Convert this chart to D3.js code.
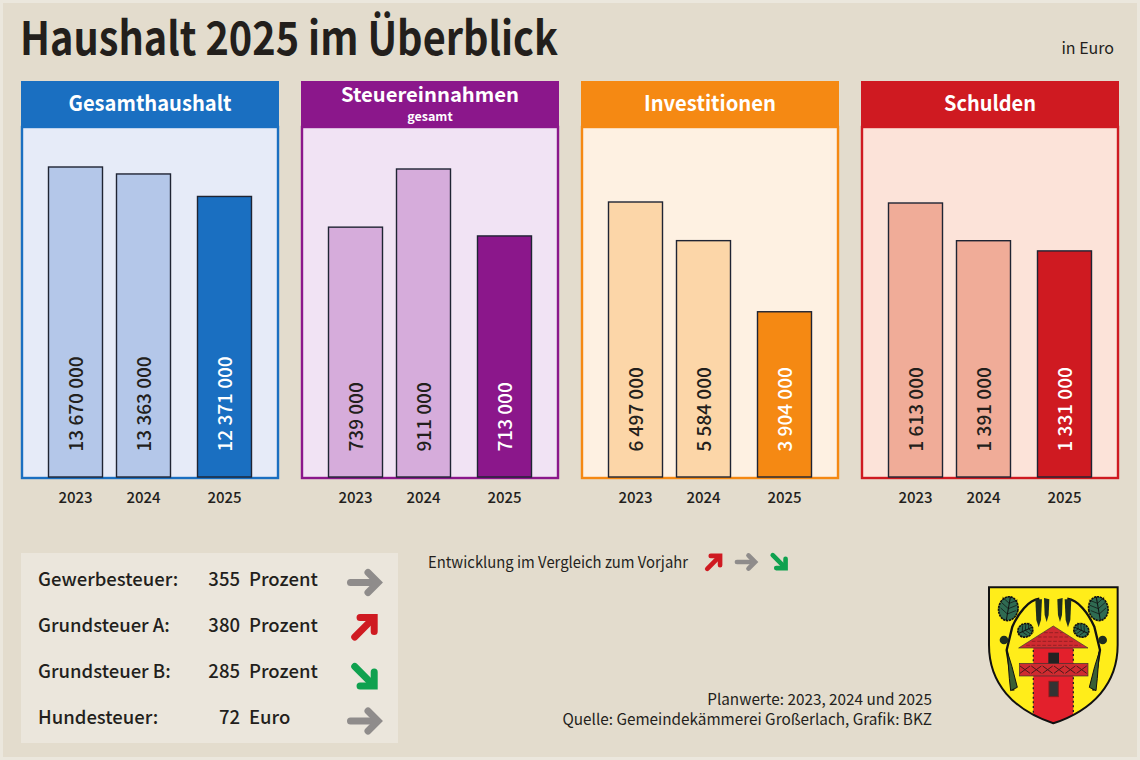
<!DOCTYPE html>
<html>
<head>
<meta charset="utf-8">
<script src="https://cdnjs.cloudflare.com/ajax/libs/d3/7.8.5/d3.min.js"></script>
<style>
html, body { margin: 0; padding: 0; background: #ebe7dd; }
svg { display: block; }
text { font-family: "Noto Sans CJK SC", "Noto Sans", sans-serif; fill: #231f1c; }
</style>
</head>
<body>
<div id="chart"></div>
<script>
// the data
var years = ["2023", "2024", "2025"];
var gesamthaushalt = [13670000, 13363000, 12371000];
var steuereinnahmen = [739000, 911000, 713000];
var investitionen = [6497000, 5584000, 3904000];
var schulden = [1613000, 1391000, 1331000];

var panelTitles = ["Gesamthaushalt", "Steuereinnahmen", "Investitionen", "Schulden"];
var panelValues = [gesamthaushalt, steuereinnahmen, investitionen, schulden];

var taxNames = ["Gewerbesteuer:", "Grundsteuer A:", "Grundsteuer B:", "Hundesteuer:"];
var taxValues = [355, 380, 285, 72];
var taxUnits = ["Prozent", "Prozent", "Prozent", "Euro"];
var taxTrends = ["same", "up", "down", "same"];

// colours per panel: strong, light background, pale bar
var strong = ["#1a6fc1", "#8b178b", "#f58913", "#cf1a21"];
var light = ["#e6ebf8", "#f1e3f4", "#fef1e2", "#fce3d9"];
var pale = ["#b4c7e9", "#d6acdb", "#fcd6a8", "#f0ac98"];
var trendColor = {same: "#8f8c8b", up: "#cf1a21", down: "#0fa14f"};
var trendAngle = {same: 0, up: -45, down: 45};
var trendShift = {same: -3, up: -5, down: -1};

var width = 1140, height = 760;
var panelX = [21, 301, 581, 861];
var panelW = 258, headerTop = 81, headerBottom = 128, baseline = 477;
var maxTop = [167, 169, 202, 203]; // top of the highest bar per panel
var titleW = [163, 178, 132, 92]; // the original font runs narrower
var barW = 54;

var svg = d3.select("#chart").append("svg")
  .attr("width", width)
  .attr("height", height);

// page
svg.append("rect").attr("x", 3).attr("y", 3).attr("width", width - 6).attr("height", height - 6).attr("fill", "#e3dccd");

// title
svg.append("text").attr("x", 20).attr("y", 55)
  .attr("font-size", 46).attr("font-weight", 700)
  .attr("textLength", 538).attr("lengthAdjust", "spacingAndGlyphs")
  .text("Haushalt 2025 im Überblick");
svg.append("text").attr("x", 1114).attr("y", 54)
  .attr("font-size", 16).attr("text-anchor", "end")
  .text("in Euro");

var fmt = d3.formatLocale({thousands: " ", grouping: [3], decimal: ",", currency: ["", ""]}).format(",d");

// x positions are centres of the bars inside a panel
var x = d3.scaleOrdinal().domain(years).range([54.5, 122.5, 203.5]);

panelValues.forEach(function(values, p) {
  var g = svg.append("g")
    .attr("transform", "translate(" + panelX[p] + ",0)");

  g.append("rect")
    .attr("x", 1).attr("y", headerBottom - 1)
    .attr("width", panelW - 2).attr("height", baseline - headerBottom + 2)
    .attr("fill", light[p]).attr("stroke", strong[p]).attr("stroke-width", 2.4);
  g.append("rect")
    .attr("y", headerTop).attr("width", panelW).attr("height", headerBottom - headerTop)
    .attr("fill", strong[p]);

  g.append("text")
    .attr("x", panelW / 2)
    .attr("y", p == 1 ? 102 : 111)
    .attr("text-anchor", "middle")
    .attr("font-size", p == 1 ? 20 : 21).attr("font-weight", 700)
    .attr("textLength", titleW[p]).attr("lengthAdjust", "spacingAndGlyphs")
    .style("fill", "#fff")
    .text(panelTitles[p]);
  if (p == 1) {
    g.append("text").attr("x", panelW / 2).attr("y", 120.5)
      .attr("text-anchor", "middle")
      .attr("font-size", 12.5).attr("font-weight", 700)
      .style("fill", "#fff")
      .text("gesamt");
  }

  var y = d3.scaleLinear()
    .domain([0, d3.max(values)])
    .range([baseline, maxTop[p]]);

  g.selectAll("rect.bar")
    .data(values)
    .enter()
    .append("rect")
      .attr("class", "bar")
      .attr("x", function(d, i) { return x(years[i]) - barW / 2; })
      .attr("y", function(d) { return y(d); })
      .attr("width", barW)
      .attr("height", function(d) { return y(0) - y(d); })
      .attr("fill", function(d, i) { return i == 2 ? strong[p] : pale[p]; })
      .attr("stroke", "#1f2433")
      .attr("stroke-width", 1.4);

  // values run upwards from a fixed line
  g.selectAll("text.val")
    .data(values)
    .enter()
    .append("text")
      .attr("class", "val")
      .attr("transform", function(d, i) { return "translate(" + (x(years[i]) + 7) + ",451.5) rotate(-90)"; })
      .attr("font-size", 19).attr("font-weight", 500)
      .style("fill", function(d, i) { return i == 2 ? "#fff" : "#231f1c"; })
      .text(function(d) { return fmt(d); });

  var axis = g.append("g")
    .attr("transform", "translate(0," + baseline + ")")
    .call(d3.axisBottom(x).tickSize(0).tickPadding(15).offset(0));
  axis.select(".domain").remove();
  axis.selectAll("text")
    .attr("font-size", 15).attr("font-weight", 500)
    .attr("font-family", null);
});

// arrow pointing right, turned by the angle
function arrow(parent, cx, cy, trend, k) {
  var a = parent.append("g")
    .attr("transform", "translate(" + cx + "," + cy + ") rotate(" + trendAngle[trend] + ") scale(" + k + ")")
    .attr("fill", "none")
    .attr("stroke", trendColor[trend])
    .attr("stroke-width", 7)
    .attr("stroke-linecap", "round");
  a.append("line").attr("x1", -14.5).attr("y1", 0).attr("x2", 11).attr("y2", 0);
  a.append("path").attr("d", "M3,-10 L13,0 L3,10").attr("stroke-linejoin", "miter");
}

// tax table
svg.append("rect").attr("x", 21).attr("y", 553)
  .attr("width", 377).attr("height", 190)
  .attr("fill", "#ebe6dc");

var rowY = d3.scalePoint().domain(taxNames).range([585.5, 724]);

taxNames.forEach(function(name, i) {
  var yy = rowY(name);
  svg.append("text").attr("x", 38).attr("y", yy).attr("font-size", 18.5).attr("font-weight", 500).text(name);
  svg.append("text").attr("x", 240).attr("y", yy).attr("font-size", 18.5).attr("font-weight", 500)
    .attr("text-anchor", "end").text(taxValues[i]);
  svg.append("text").attr("x", 249).attr("y", yy).attr("font-size", 18.5).attr("font-weight", 500).text(taxUnits[i]);
  arrow(svg, 365, yy + trendShift[taxTrends[i]], taxTrends[i], 1);
});

// legend of the arrows
svg.append("text").attr("x", 428).attr("y", 568).attr("font-size", 15.5)
  .attr("textLength", 260).attr("lengthAdjust", "spacingAndGlyphs")
  .text("Entwicklung im Vergleich zum Vorjahr");
arrow(svg, 714, 562, "up", 0.66);
arrow(svg, 746.5, 562, "same", 0.66);
arrow(svg, 779.5, 562, "down", 0.66);

// source
svg.append("text").attr("x", 932).attr("y", 705).attr("text-anchor", "end").attr("font-size", 15.3)
  .text("Planwerte: 2023, 2024 und 2025");
svg.append("text").attr("x", 932).attr("y", 725).attr("text-anchor", "end").attr("font-size", 15.3)
  .text("Quelle: Gemeindekämmerei Großerlach, Grafik: BKZ");

// coat of arms, drawn in 3x coordinates
var crest = svg.append("g").attr("transform", "translate(960,570) scale(0.3333)");
var shield = "M87,52 L473,52 L473,225 C473,340 400,420 280,460 C160,420 87,340 87,225 Z";
crest.append("clipPath").attr("id", "shieldClip").append("path").attr("d", shield);
crest.append("path").attr("d", shield).attr("fill", "#ffed1a");

// branches, leaves and catkins
function leaf(s, cx, cy, rx, ry, angle) {
  var l = s.append("g").attr("transform", "translate(" + cx + "," + cy + ") rotate(" + angle + ")");
  l.append("ellipse").attr("rx", rx).attr("ry", ry)
    .attr("fill", "#2f6b52").attr("stroke", "#111").attr("stroke-width", 5).attr("stroke-dasharray", "7,2");
  l.append("line").attr("y1", -ry).attr("y2", ry).attr("stroke", "#111").attr("stroke-width", 3);
  [-0.55, -0.1, 0.35].forEach(function(t) {
    l.append("path").attr("d", "M" + (-rx * 0.8) + "," + (ry * (t - 0.3)) + " L0," + (ry * (t + 0.1)) + " L" + (rx * 0.8) + "," + (ry * (t - 0.3)))
      .attr("fill", "none").attr("stroke", "#111").attr("stroke-width", 2);
  });
}
function side(mirror) {
  var s = crest.append("g").attr("transform", mirror ? "translate(560,0) scale(-1,1)" : null);
  s.append("path").attr("d", "M160,362 L150,300 L140,240 L157,170 C175,130 205,90 238,86")
    .attr("fill", "none").attr("stroke", "#111").attr("stroke-width", 7);
  s.append("path").attr("d", "M148,325 L152,362 L172,352 L156,290 L142,245 Z")
    .attr("fill", "#3a5f35").attr("stroke", "#111").attr("stroke-width", 3);
  leaf(s, 145, 116, 29, 36, 10);
  leaf(s, 196, 181, 20, 23, 65);
  s.append("circle").attr("cx", 132).attr("cy", 210).attr("r", 13).attr("fill", "#1d2d20");
  s.append("path").attr("d", "M226,88 L246,88 L243,150 L236,172 L229,150 Z").attr("fill", "#1d2d20");
  s.append("path").attr("d", "M252,84 L268,88 L266,135 L260,156 L254,135 Z").attr("fill", "#1d2d20");
}
side(false);
side(true);

// tower
crest.append("rect").attr("x", 220).attr("y", 232).attr("width", 120).attr("height", 230)
  .attr("clip-path", "url(#shieldClip)")
  .attr("fill", "#e3202c").attr("stroke", "#222").attr("stroke-width", 4).attr("stroke-dasharray", "6,8");
crest.append("path").attr("d", "M280,168 L384,234 L176,234 Z").attr("fill", "#cf2b30").attr("stroke", "#333").attr("stroke-width", 2);
[188, 201, 214, 226].forEach(function(yy) {
  crest.append("line").attr("x1", 280 - (yy - 168) * 1.4).attr("x2", 280 + (yy - 168) * 1.4)
    .attr("y1", yy).attr("y2", yy)
    .attr("stroke", "#7a1a1c").attr("stroke-width", 2).attr("stroke-dasharray", "11,5");
});
crest.append("rect").attr("x", 178).attr("y", 280).attr("width", 206).attr("height", 38)
  .attr("fill", "#cf2b30").attr("stroke", "#333").attr("stroke-width", 2);
[195, 229, 263, 297, 331, 365].forEach(function(xx) {
  crest.append("path").attr("d", "M" + (xx - 15) + ",288 L" + (xx + 15) + ",310 M" + (xx + 15) + ",288 L" + (xx - 15) + ",310")
    .attr("stroke", "#4a1a1c").attr("stroke-width", 3);
});
crest.append("rect").attr("x", 265).attr("y", 248).attr("width", 32).attr("height", 32).attr("fill", "#222");
crest.append("rect").attr("x", 267).attr("y", 334).attr("width", 28).attr("height", 46).attr("fill", "#333").attr("stroke", "#8a1a1c").attr("stroke-width", 3);

// shield outline on top
crest.append("path").attr("d", shield).attr("fill", "none").attr("stroke", "#111").attr("stroke-width", 6);
</script>
</body>
</html>
